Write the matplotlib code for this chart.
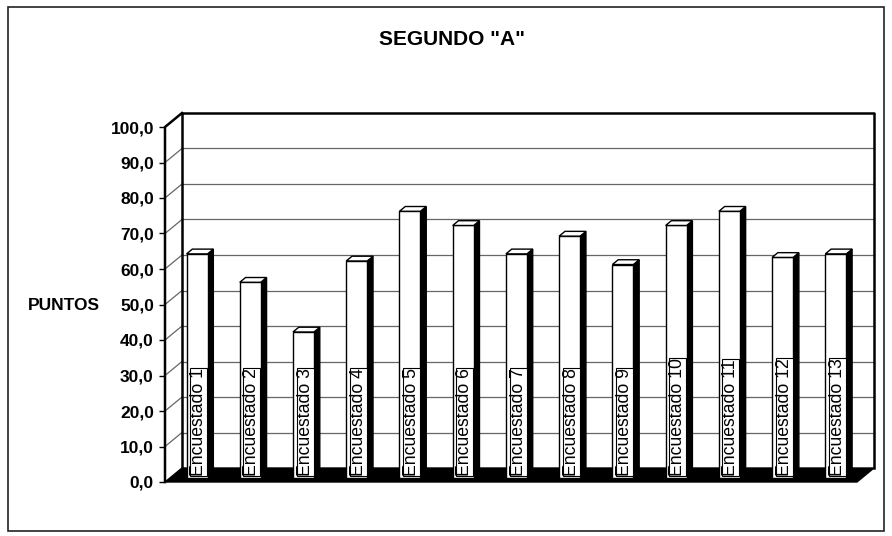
import matplotlib
matplotlib.use("Agg")
import matplotlib.pyplot as plt
from matplotlib.patches import Polygon, Rectangle
from matplotlib.lines import Line2D

plt.rcParams['font.family'] = ['Liberation Sans', 'DejaVu Sans']

title = 'SEGUNDO "A"'
ylabel = "PUNTOS"
categories = ["Encuestado %d" % i for i in range(1, 14)]
values = [63, 55, 41, 61, 75, 71, 63, 68, 60, 71, 75, 62, 63]
yticks = [0, 10, 20, 30, 40, 50, 60, 70, 80, 90, 100]
ytick_labels = ["0,0", "10,0", "20,0", "30,0", "40,0", "50,0",
                "60,0", "70,0", "80,0", "90,0", "100,0"]

W, H = 892, 536
fig = plt.figure(figsize=(W / 100, H / 100), dpi=100)

# outer border
fig.patches.append(Rectangle((8 / W, 1 - 531 / H), (884 - 8) / W, (531 - 7) / H,
                             transform=fig.transFigure, fill=False,
                             edgecolor="#222222", lw=1.2))

ax = fig.add_axes([165 / W, 54 / H, 692 / W, 355 / H])
n = len(values)
ax.set_xlim(-0.5, n - 0.5)
ax.set_ylim(0, 100)
for s in ax.spines.values():
    s.set_visible(False)
ax.set_xticks([])
ax.set_yticks(yticks)
ax.set_yticklabels(ytick_labels, fontsize=12.5, fontweight="bold")
ax.tick_params(axis="y", direction="out", length=4, width=1, pad=4, colors="black")
ax.patch.set_alpha(0)

# depth (oblique projection) in data units
px_per_cat = 692 / n
px_per_val = 355 / 100
DX = 17 / px_per_cat
DY = 14 / px_per_val
x0, x1 = -0.5, n - 0.5

grid_kw = dict(color="#666666", lw=0.9, zorder=1, clip_on=False)
for t in yticks[1:-1]:
    # back wall gridline
    ax.add_line(Line2D([x0 + DX, x1 + DX], [t + DY, t + DY], **grid_kw))
    # side wall gridline
    ax.add_line(Line2D([x0, x0 + DX], [t, t + DY], **grid_kw))

# floor (black)
ax.add_patch(Polygon([(x0, 0), (x1, 0), (x1 + DX, DY), (x0 + DX, DY)],
                     closed=True, facecolor="black", edgecolor="black",
                     lw=1, zorder=2, clip_on=False))

edge_kw = dict(color="black", lw=1.8, zorder=3, clip_on=False,
               solid_capstyle="projecting")
# back wall outline
ax.add_line(Line2D([x0 + DX, x0 + DX, x1 + DX, x1 + DX],
                   [DY, 100 + DY, 100 + DY, DY], **edge_kw))
# side wall outline
ax.add_line(Line2D([x0, x0, x0 + DX], [0, 100, 100 + DY], **edge_kw))

# bars
w = 21 / px_per_cat
d0, d1 = 0.32, 0.66
dd = d1 - d0
xs = [i + d0 * DX for i in range(n)]
base = d0 * DY
bars = ax.bar(xs, values, width=w, bottom=base, color="white",
              edgecolor="black", linewidth=1.0, zorder=5, clip_on=False)
for xc, v, lab in zip(xs, values, categories):
    xl, xr = xc - w / 2, xc + w / 2
    top = v + base
    side = Polygon([(xr, base), (xr, top), (xr + dd * DX, top + dd * DY),
                    (xr + dd * DX, base + dd * DY)], closed=True,
                   facecolor="black", edgecolor="black", lw=1, zorder=4,
                   clip_on=False)
    ax.add_patch(side)
    topf = Polygon([(xl, top), (xr, top), (xr + dd * DX, top + dd * DY),
                    (xl + dd * DX, top + dd * DY)], closed=True,
                   facecolor="white", edgecolor="black", lw=1, zorder=6,
                   clip_on=False)
    ax.add_patch(topf)
    ax.text(xc + 0.03, base + 0.4, lab, rotation=90, ha="center", va="bottom",
            fontsize=12.7, zorder=7,
            bbox=dict(boxstyle="square,pad=0.0", facecolor="white",
                      edgecolor="black", lw=0.8))

fig.text(452 / W, 1 - 39.5 / H, title, ha="center", va="center",
         fontsize=15, fontweight="bold")
fig.text(64 / W, 1 - 305 / H, ylabel, ha="center", va="center",
         fontsize=12.5, fontweight="bold")

fig.savefig("out.png", dpi=100)
